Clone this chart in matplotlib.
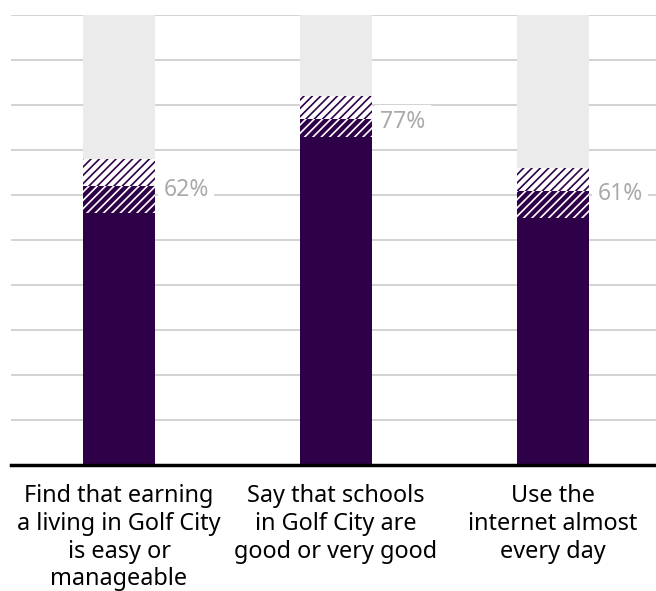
import numpy as np
import matplotlib.pyplot as plt

plt.rcParams['font.family'] = ['Noto Sans', 'DejaVu Sans']
plt.rcParams['hatch.linewidth'] = 1.2

categories = ["Find that earning\na living in Golf City\nis easy or\nmanageable",
              "Say that schools\nin Golf City are\ngood or very good",
              "Use the\ninternet almost\nevery day"]
solid = [56, 73, 55]
dark_hatch = [6, 4, 6]
light_hatch = [6, 5, 5]
totals = [62, 77, 61]

purple = '#2e0047'
x = np.arange(len(categories))
w = 0.33

fig = plt.figure(figsize=(6.56, 5.91), dpi=100)
ax = fig.add_axes([11/656, 126/591, 645/656, 450/591])

ax.bar(x, 100, w, color='#ebebeb', zorder=2)
ax.bar(x, solid, w, color=purple, zorder=3)
ax.bar(x, dark_hatch, w, bottom=solid, color=purple, edgecolor='white',
       hatch='////', linewidth=0, zorder=3)
bot2 = np.array(solid) + np.array(dark_hatch)
ax.bar(x, light_hatch, w, bottom=bot2, color='white', edgecolor=purple,
       hatch='////', linewidth=0, zorder=3)

for xi, t in zip(x, totals):
    ax.text(xi + w/2 + 0.04, t - 0.8, f'{t}%', color='#aaaaaa', fontsize=16.5,
            va='center', ha='left', zorder=4,
            bbox=dict(facecolor='white', edgecolor='none', pad=4))

ax.set_xlim(-0.498, 2.475)
ax.set_ylim(0, 100)
ax.set_yticks(np.arange(0, 101, 10))
ax.yaxis.grid(True, color='#cccccc', linewidth=1.2, zorder=0)
ax.set_axisbelow(True)
ax.tick_params(length=0, labelleft=False)
ax.set_xticks(x)
ax.set_xticklabels(categories, fontsize=16.9, linespacing=1.2, va='top')
ax.tick_params(axis='x', pad=14)
for s in ['top', 'right', 'left']:
    ax.spines[s].set_visible(False)
ax.spines['bottom'].set_linewidth(2.5)
ax.spines['bottom'].set_zorder(5)

fig.savefig('out.png', dpi=100)
